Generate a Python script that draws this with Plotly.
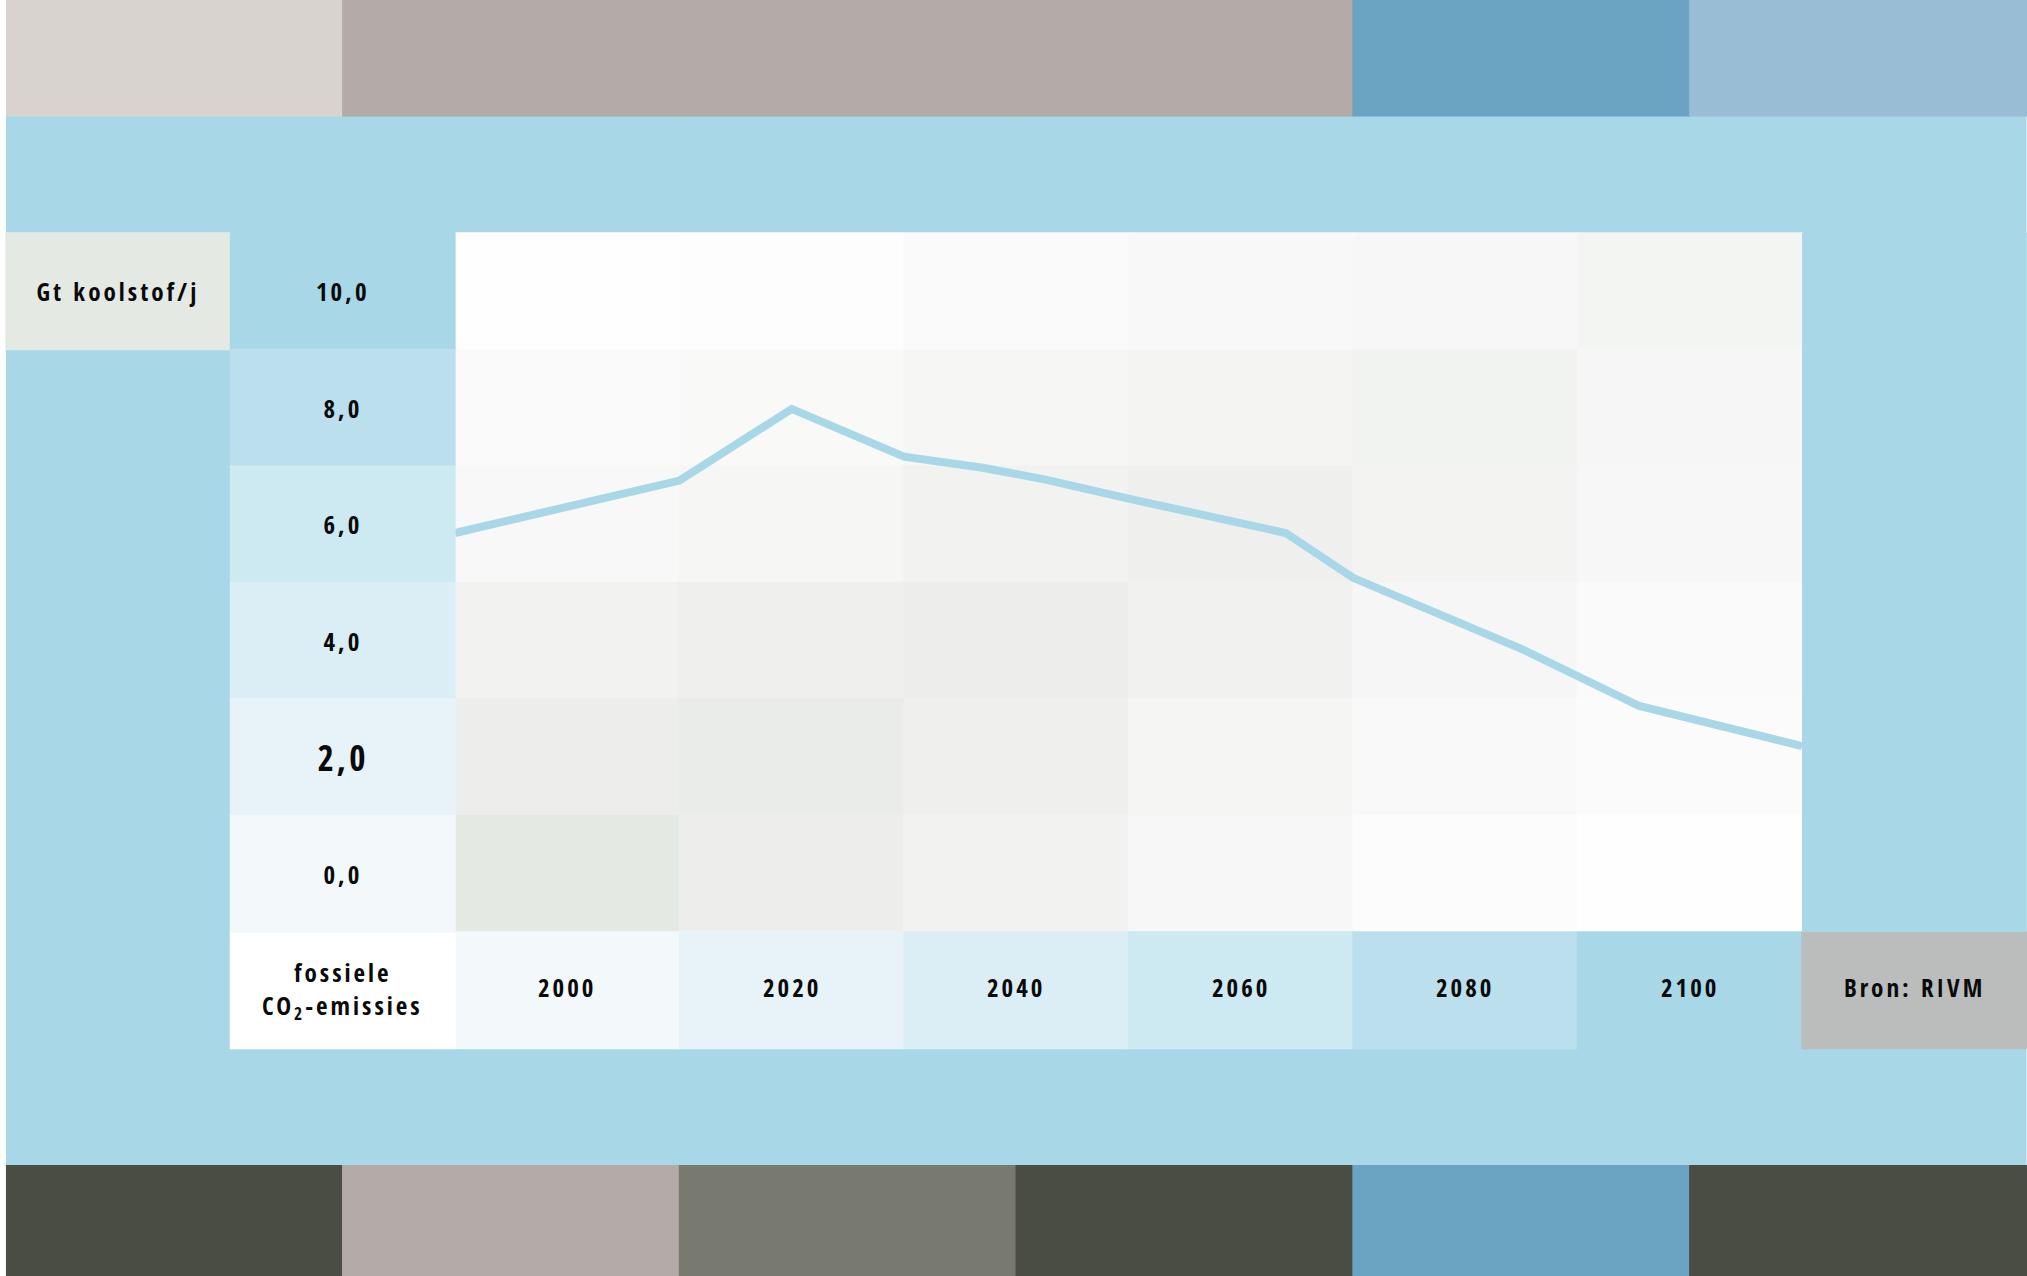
import plotly.graph_objects as go

# ---------------- data ----------------
X_TICKS = [2000, 2020, 2040, 2060, 2080, 2100]
X_TICK_LABELS = ["2000", "2020", "2040", "2060", "2080", "2100"]
Y_TICKS = [10, 8, 6, 4, 2, 0]
Y_TICK_LABELS = ["10,0", "8,0", "6,0", "4,0", "2,0", "0,0"]

LINE_YEARS = [1990, 2010, 2020, 2030, 2037, 2042.5, 2050, 2064, 2070, 2085, 2095.5, 2110]
LINE_VALUES = [5.85, 6.75, 7.98, 7.16, 6.97, 6.77, 6.44, 5.85, 5.08, 3.86, 2.88, 2.19]

Y_UNIT = "Gt koolstof/j"
X_TITLE_1 = "fossiele"
X_TITLE_2 = "CO<sub>2</sub>-emissies"
SOURCE = "Bron: RIVM"

# ---------------- colours ----------------
BG_BLUE = "#A8D7E8"
LINE_COLOR = "#A8D7E8"
UNIT_TILE = "#E5E9E4"
XTITLE_TILE = "#FFFFFF"
SOURCE_TILE = "#BABDBC"
PLOT_TILES = [
    ["#FEFEFE", "#FDFDFD", "#FAFAFA", "#F8F8F8", "#F7F7F7", "#F3F5F2"],
    ["#FAFAFA", "#F9F9F8", "#F6F6F5", "#F4F5F3", "#F1F3F0", "#F6F6F6"],
    ["#F8F8F8", "#F6F6F5", "#F2F3F1", "#EFF0EE", "#F3F4F2", "#F7F7F7"],
    ["#F2F3F1", "#EFF0EE", "#EDEEEC", "#F1F2F0", "#F6F6F6", "#FAFAFA"],
    ["#EDEEEC", "#EAECE9", "#EFF0EE", "#F5F5F4", "#F9F9F9", "#FBFBFB"],
    ["#E5E9E4", "#EDEEEB", "#F2F3F1", "#F7F7F7", "#FCFCFC", "#FEFEFE"],
]
Y_LABEL_TILES = ["#A8D7E8", "#BBDFED", "#CDE9F2", "#DBEEF5", "#E7F3F8", "#F3F9FB"]
X_LABEL_TILES = ["#F3F9FB", "#E7F3F8", "#DBEEF5", "#CDE9F2", "#BBDFED", "#A8D7E8"]
TOP_BAND = ["#D8D3CF", "#B4ABA8", "#B4ABA8", "#B4ABA8", "#6BA3C3", "#98BDD5"]
BOTTOM_BAND = ["#4A4D44", "#B4ABA8", "#787A70", "#4A4D44", "#6BA3C3", "#4A4D44"]

FONT = "Open Sans Condensed, Roboto Condensed, sans-serif"

# ---------------- geometry derived from ticks ----------------
dx = X_TICKS[1] - X_TICKS[0]
dy = Y_TICKS[0] - Y_TICKS[1]
x_lab_col = X_TICKS[0] - dx
x_unit_col = X_TICKS[0] - 2 * dx
x_src_col = X_TICKS[-1] + dx
y_lab_row = min(Y_TICKS) - dy
grid_left = x_unit_col - dx / 2
grid_right = x_src_col + dx / 2
top_band = (max(Y_TICKS) + 1.5 * dy, max(Y_TICKS) + 2.5 * dy)
bot_band = (min(Y_TICKS) - 3.5 * dy, min(Y_TICKS) - 2.5 * dy)
ex, ey = 0.06, 0.012   # tiny overlap to hide anti-aliasing seams

fig = go.Figure()
shapes = []


def rect(x0, x1, y0, y1, color, layer="below"):
    shapes.append(dict(type="rect", xref="x", yref="y", x0=x0, x1=x1, y0=y0, y1=y1,
                       fillcolor=color, line=dict(width=0), layer=layer))


def tile(xc, yc, color, layer="below"):
    rect(xc - dx / 2 - ex, xc + dx / 2 + ex, yc - dy / 2 - ey, yc + dy / 2 + ey, color, layer)


rect(grid_left, grid_right, bot_band[0] - 1, top_band[1] + 1, BG_BLUE)

band_w = (grid_right - grid_left) / len(TOP_BAND)
for i, c in enumerate(TOP_BAND):
    rect(grid_left + i * band_w - (ex if i else 0), grid_left + (i + 1) * band_w + ex,
         top_band[0], top_band[1] + 1, c)
for i, c in enumerate(BOTTOM_BAND):
    rect(grid_left + i * band_w - (ex if i else 0), grid_left + (i + 1) * band_w + ex,
         bot_band[0] - 1, bot_band[1], c)

for r, yv in enumerate(Y_TICKS):
    for c, xv in enumerate(X_TICKS):
        tile(xv, yv, PLOT_TILES[r][c])

for r, yv in enumerate(Y_TICKS):
    tile(x_lab_col, yv, Y_LABEL_TILES[r], layer="above")
rect(x_src_col - dx / 2, grid_right, min(Y_TICKS) - dy / 2, max(Y_TICKS) + dy / 2,
     BG_BLUE, layer="above")

for c, xv in enumerate(X_TICKS):
    tile(xv, y_lab_row, X_LABEL_TILES[c])
tile(x_lab_col, y_lab_row, XTITLE_TILE)
tile(x_src_col, y_lab_row, SOURCE_TILE)
tile(x_unit_col, max(Y_TICKS), UNIT_TILE)

fig.add_trace(go.Scatter(x=LINE_YEARS, y=LINE_VALUES, mode="lines",
                         line=dict(color=LINE_COLOR, width=8),
                         hoverinfo="skip", showlegend=False))

ann = []
base_font = dict(family=FONT, size=25, color="#0A0A0A", weight=800)


def label(x, y, text, font=base_font, yshift=0):
    ann.append(dict(x=x, y=y, xref="x", yref="y", text=text,
                    showarrow=False, font=font, xanchor="center", yanchor="middle",
                    yshift=yshift))


for yv, lab in zip(Y_TICKS, Y_TICK_LABELS):
    f = dict(base_font)
    if lab == "2,0":
        f["size"] = 35
    label(x_lab_col, yv, lab, f)
for xv, lab in zip(X_TICKS, X_TICK_LABELS):
    label(xv, y_lab_row, lab, yshift=3)
label(x_unit_col, max(Y_TICKS), Y_UNIT)
label(x_lab_col, y_lab_row, X_TITLE_1, yshift=18)
label(x_lab_col, y_lab_row, X_TITLE_2, yshift=-16)
label(x_src_col, y_lab_row, SOURCE, yshift=3)

fig.update_layout(
    width=2027, height=1276, autosize=False,
    margin=dict(l=0, r=0, t=0, b=0, pad=0),
    paper_bgcolor="white", plot_bgcolor="rgba(0,0,0,0)",
    shapes=shapes, annotations=ann, showlegend=False,
    xaxis=dict(range=[1949.47, 2130.04], visible=False, fixedrange=True),
    yaxis=dict(range=[-6.906, 15.0], visible=False, fixedrange=True),
    font=dict(family=FONT),
)

post = ("document.body.style.margin='0';"
        "var g=document.getElementsByClassName('annotation-text');"
        "for(var i=0;i<g.length;i++){g[i].style.letterSpacing='3px';}")
fig.write_html("out.html", post_script=post, config={"displayModeBar": False})
